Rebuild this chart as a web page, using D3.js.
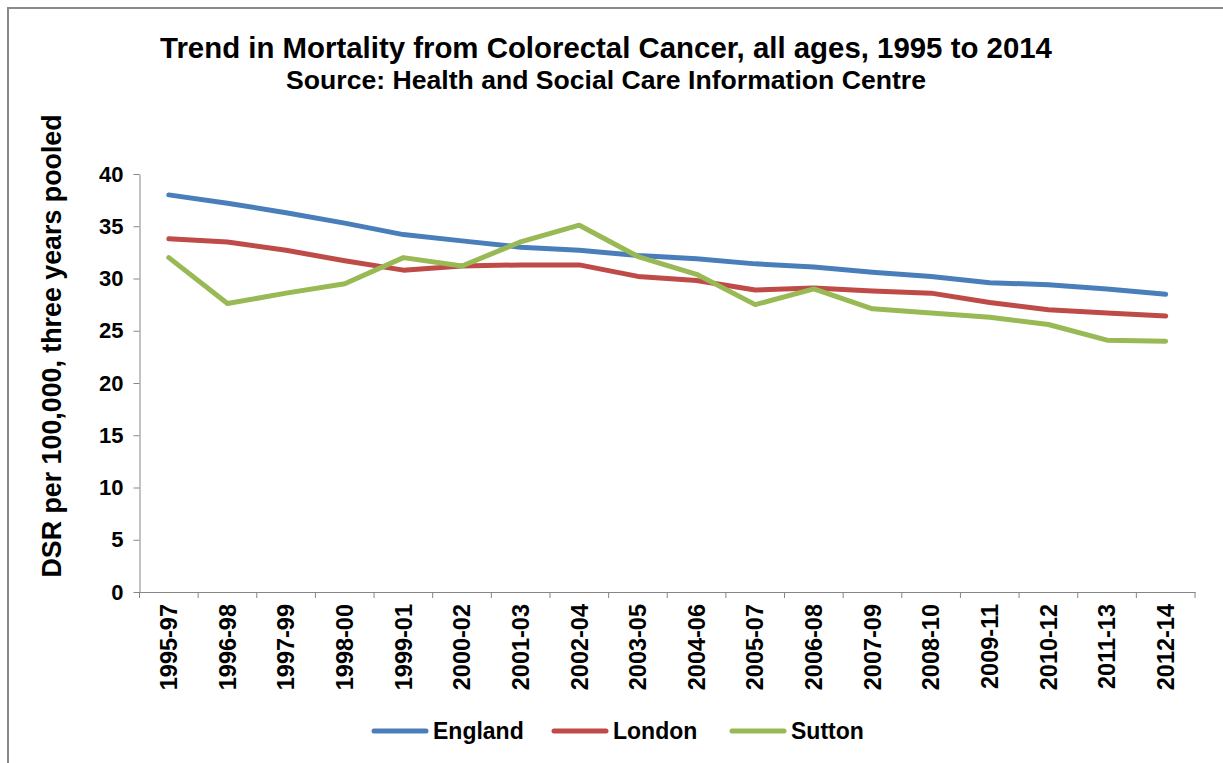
<!DOCTYPE html>
<head>
  <meta charset="utf-8">
  <script src="https://d3js.org/d3.v7.min.js"></script>
  <style>
body { margin: 0; background: #fff; }
svg { display: block; font-family: Arial, "Liberation Sans", sans-serif; }
.axis path, .axis line { stroke: #868686; }
.axis text { font-weight: 700; fill: #000; }
  </style>
</head>

<body>
  <script>
    // three-year pooled periods
    var periods = ["1995-97","1996-98","1997-99","1998-00","1999-01","2000-02","2001-03","2002-04","2003-05",
                   "2004-06","2005-07","2006-08","2007-09","2008-10","2009-11","2010-12","2011-13","2012-14"];
    var england = [38.0,37.2,36.3,35.3,34.2,33.6,33.0,32.7,32.2,31.9,31.4,31.1,30.6,30.2,29.6,29.4,29.0,28.5];
    var london  = [33.8,33.5,32.7,31.7,30.8,31.2,31.3,31.3,30.2,29.8,28.9,29.1,28.8,28.6,27.7,27.0,26.7,26.4];
    var sutton  = [32.0,27.6,28.6,29.5,32.0,31.2,33.5,35.1,32.1,30.4,27.5,29.0,27.1,26.7,26.3,25.6,24.1,24.0];
    var yTicks = [0,5,10,15,20,25,30,35,40];

    var series = [
      {name: "England", values: england, color: "#4A7EBB"},
      {name: "London",  values: london,  color: "#BE4B48"},
      {name: "Sutton",  values: sutton,  color: "#98B954"}
    ];

    var W = 1223, H = 763;
    var svg = d3.select("body").append("svg")
      .attr("width", W)
      .attr("height", H);

    // outer chart border (runs off the right and bottom of the picture)
    svg.append("path")
      .attr("d", "M8," + H + "V8H" + W)
      .attr("fill", "none")
      .attr("stroke", "#898989")
      .attr("stroke-width", 2);

    svg.append("text")
      .attr("x", 606).attr("y", 47)
      .attr("text-anchor", "middle")
      .attr("dominant-baseline", "central")
      .style("font-size", "29.4px").style("font-weight", 700)
      .text("Trend in Mortality from Colorectal Cancer, all ages, 1995 to 2014");
    svg.append("text")
      .attr("x", 606).attr("y", 80)
      .attr("text-anchor", "middle")
      .attr("dominant-baseline", "central")
      .style("font-size", "26.6px").style("font-weight", 700)
      .text("Source: Health and Social Care Information Centre");

    var plotLeft = 139.5, plotRight = 1195, plotTop = 174, plotBottom = 592;

    var x = d3.scaleBand().domain(periods).range([plotLeft, plotRight]);
    var y = d3.scaleLinear().domain([0, 40]).range([plotBottom, plotTop]);

    var yAxis = svg.append("g")
      .attr("class", "axis")
      .attr("transform", "translate(" + plotLeft + ",0)")
      .call(d3.axisLeft(y).tickValues(yTicks).tickSize(6).tickPadding(10).tickSizeOuter(0));
    yAxis.selectAll("text").style("font-size", "22px");

    var xAxis = svg.append("g")
      .attr("class", "axis")
      .attr("transform", "translate(0," + plotBottom + ")")
      .call(d3.axisBottom(x).tickSize(0).tickSizeOuter(0));
    // tick marks sit between the categories
    xAxis.selectAll(".sep")
      .data(periods.concat(["end"]))
      .enter().append("line")
      .attr("x1", (d, i) => plotLeft + i * x.step())
      .attr("x2", (d, i) => plotLeft + i * x.step())
      .attr("y1", 0).attr("y2", 6);
    xAxis.selectAll(".tick text")
      .style("font-size", "23.5px")
      .attr("text-anchor", "end")
      .attr("dy", "0.35em")
      .attr("transform", "translate(0,12) rotate(-90)")
      .attr("x", 0).attr("y", 0);

    svg.append("text")
      .attr("transform", "translate(52,346) rotate(-90)")
      .attr("text-anchor", "middle")
      .attr("dominant-baseline", "central")
      .style("font-size", "26.8px").style("font-weight", 700)
      .text("DSR per 100,000, three years pooled");

    var line = d3.line()
      .x((d, i) => x(periods[i]) + x.bandwidth() / 2)
      .y(d => y(d));

    svg.selectAll(".series")
      .data(series)
      .enter().append("path")
      .attr("class", "series")
      .attr("d", d => line(d.values))
      .attr("fill", "none")
      .attr("stroke", d => d.color)
      .attr("stroke-width", 5)
      .attr("stroke-linejoin", "round")
      .attr("stroke-linecap", "round");

    // legend
    var legendX = [374, 554, 732];
    var lg = svg.selectAll(".legend")
      .data(series)
      .enter().append("g")
      .attr("class", "legend")
      .attr("transform", (d, i) => "translate(" + legendX[i] + ",731)");
    lg.append("line")
      .attr("x1", 0).attr("x2", 52)
      .attr("stroke", d => d.color)
      .attr("stroke-width", 5)
      .attr("stroke-linecap", "round");
    lg.append("text")
      .attr("x", 59).attr("dy", "0.35em")
      .style("font-size", "23px").style("font-weight", 700)
      .text(d => d.name);
  </script>
</body>
